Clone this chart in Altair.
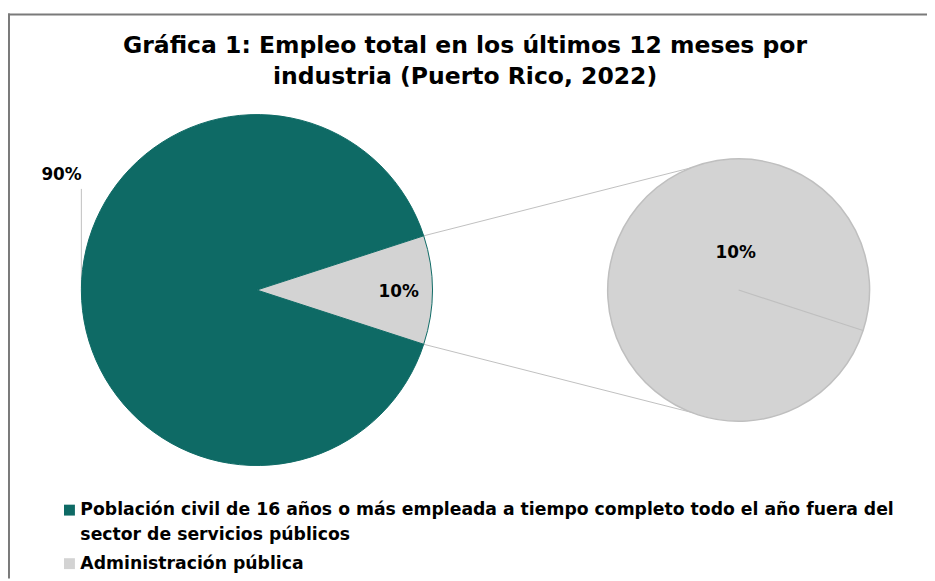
import math
import altair as alt
import pandas as pd

# ---------------- data ----------------
categories = [
    "Población civil de 16 años o más empleada a tiempo completo todo el año fuera del sector de servicios públicos",
    "Administración pública",
]
legend_labels = [
    "Población civil de 16 años o más empleada a tiempo completo todo el año fuera del\nsector de servicios públicos",
    "Administración pública",
]
shares = [90, 10]
pct_labels = ["90%", "10%"]
title_lines = [
    "Gráfica 1: Empleo total en los últimos 12 meses por",
    "industria (Puerto Rico, 2022)",
]

# ---------------- style / layout ----------------
colors = ["#0E6A65", "#D3D3D3"]
FONT = "DejaVu Sans"
W, H = 927, 573
MAIN_CX, MAIN_CY, MAIN_R = 251, 282, 177
SUB_CX, SUB_CY, SUB_R = 737, 282, 132
SUB_CONN_ANGLES = [340, 200]  # where the connector lines touch the second pie (deg from top)

total = sum(shares)
small_span = 360 * shares[1] / total
start_deg = 90 - small_span / 2
end_deg = 90 + small_span / 2
start_rad = math.radians(start_deg)
end_rad = math.radians(end_deg)


def polar(cx, cy, r, deg):
    a = math.radians(deg)
    return cx + r * math.sin(a), cy - r * math.cos(a)


xs = alt.Scale(domain=[0, W], range=[0, W])
ys = alt.Scale(domain=[0, H], range=[0, H])
color_scale = alt.Scale(domain=categories, range=colors)

# ---------------- main pie ----------------
pie_df = pd.DataFrame({"category": categories, "share": shares, "ord": [1, 0]})
main_pie = alt.Chart(pie_df).mark_arc(
    outerRadius=MAIN_R, x=MAIN_CX, y=MAIN_CY, stroke=colors[0], strokeWidth=1
).encode(
    theta=alt.Theta("share:Q", stack=True,
                    scale=alt.Scale(range=[start_rad, start_rad + 2 * math.pi])),
    color=alt.Color("category:N", scale=color_scale, legend=None),
    order=alt.Order("ord:Q"),
)

# ---------------- secondary pie (the small slice expanded) ----------------
sub_df = pd.DataFrame({"category": [categories[1]], "share": [shares[1]]})
sub_pie = alt.Chart(sub_df).mark_arc(
    outerRadius=SUB_R, x=SUB_CX, y=SUB_CY, stroke="#BFBFBF", strokeWidth=1.5
).encode(
    theta=alt.Theta("share:Q", stack=True,
                    scale=alt.Scale(range=[end_rad, end_rad + 2 * math.pi])),
    color=alt.Color("category:N", scale=color_scale, legend=None),
)
pies = alt.layer(main_pie, sub_pie).resolve_scale(theta="independent")

# ---------------- connector / leader lines ----------------
p_top = polar(MAIN_CX, MAIN_CY, MAIN_R, start_deg)
p_bot = polar(MAIN_CX, MAIN_CY, MAIN_R, end_deg)
q_top = polar(SUB_CX, SUB_CY, SUB_R, SUB_CONN_ANGLES[0])
q_bot = polar(SUB_CX, SUB_CY, SUB_R, SUB_CONN_ANGLES[1])
div_end = polar(SUB_CX, SUB_CY, SUB_R, end_deg)
left_pt = polar(MAIN_CX, MAIN_CY, MAIN_R, 270)

lines_df = pd.DataFrame([
    {"x": p_top[0], "y": p_top[1], "x2": q_top[0], "y2": q_top[1]},
    {"x": p_bot[0], "y": p_bot[1], "x2": q_bot[0], "y2": q_bot[1]},
    {"x": left_pt[0], "y": left_pt[1] - 2, "x2": left_pt[0], "y2": 180},
])
lines = alt.Chart(lines_df).mark_rule(color="#BFBFBF", strokeWidth=1).encode(
    x=alt.X("x:Q", scale=xs, axis=None),
    y=alt.Y("y:Q", scale=ys, axis=None),
    x2="x2:Q",
    y2="y2:Q",
)
div_df = pd.DataFrame([{"x": SUB_CX, "y": SUB_CY, "x2": div_end[0], "y2": div_end[1]}])
divider = alt.Chart(div_df).mark_rule(color="#BFBFBF", strokeWidth=1.2).encode(
    x=alt.X("x:Q", scale=xs, axis=None),
    y=alt.Y("y:Q", scale=ys, axis=None),
    x2="x2:Q",
    y2="y2:Q",
)

# ---------------- frame ----------------
frame_df = pd.DataFrame([
    {"x": 0, "y": 4, "x2": W, "y2": 4},
    {"x": 1, "y": 3, "x2": 1, "y2": H},
])
frame = alt.Chart(frame_df).mark_rule(color="#7A7A7A", strokeWidth=2).encode(
    x=alt.X("x:Q", scale=xs, axis=None),
    y=alt.Y("y:Q", scale=ys, axis=None),
    x2="x2:Q",
    y2="y2:Q",
)

# ---------------- data labels ----------------
small_lbl = polar(MAIN_CX, MAIN_CY, 143, 90)
lbl_df = pd.DataFrame([
    {"x": 54, "y": 166, "t": pct_labels[0]},
    {"x": small_lbl[0], "y": small_lbl[1] + 2, "t": pct_labels[1]},
    {"x": SUB_CX - 3, "y": SUB_CY - 37, "t": pct_labels[1]},
])
labels = alt.Chart(lbl_df).mark_text(
    font=FONT, fontSize=17, fontWeight="bold", color="#000000", baseline="middle"
).encode(
    x=alt.X("x:Q", scale=xs, axis=None),
    y=alt.Y("y:Q", scale=ys, axis=None),
    text="t:N",
)

# ---------------- title ----------------
title_df = pd.DataFrame({"t": title_lines, "x": [461, 461], "y": [36, 67]})
title = alt.Chart(title_df).mark_text(
    font=FONT, fontSize=23.7, fontWeight="bold", color="#000000", baseline="middle"
).encode(
    x=alt.X("x:Q", scale=xs, axis=None),
    y=alt.Y("y:Q", scale=ys, axis=None),
    text="t:N",
)

# ---------------- legend ----------------
leg_df = pd.DataFrame({
    "category": categories,
    "label": legend_labels,
    "x": [62, 62],
    "y": [504, 558],
})
leg_sym = alt.Chart(leg_df).mark_square(size=121, opacity=1).encode(
    x=alt.X("x:Q", scale=xs, axis=None),
    y=alt.Y("y:Q", scale=ys, axis=None),
    color=alt.Color("category:N", scale=color_scale, legend=None),
)
leg_txt = alt.Chart(leg_df).mark_text(
    font=FONT, fontSize=17.4, fontWeight="bold", color="#000000", align="left",
    baseline="middle", dx=11, lineBreak="\n", lineHeight=25
).encode(
    x=alt.X("x:Q", scale=xs, axis=None),
    y=alt.Y("y:Q", scale=ys, axis=None),
    text="label:N",
)

chart = alt.layer(
    frame, lines, pies, divider, labels, title, leg_sym, leg_txt
).properties(
    width=W, height=H, padding=0,
    autosize=alt.AutoSizeParams(type="none"),
).configure_view(stroke=None)

chart.save("out.html", embed_options={"renderer": "svg", "actions": False})
